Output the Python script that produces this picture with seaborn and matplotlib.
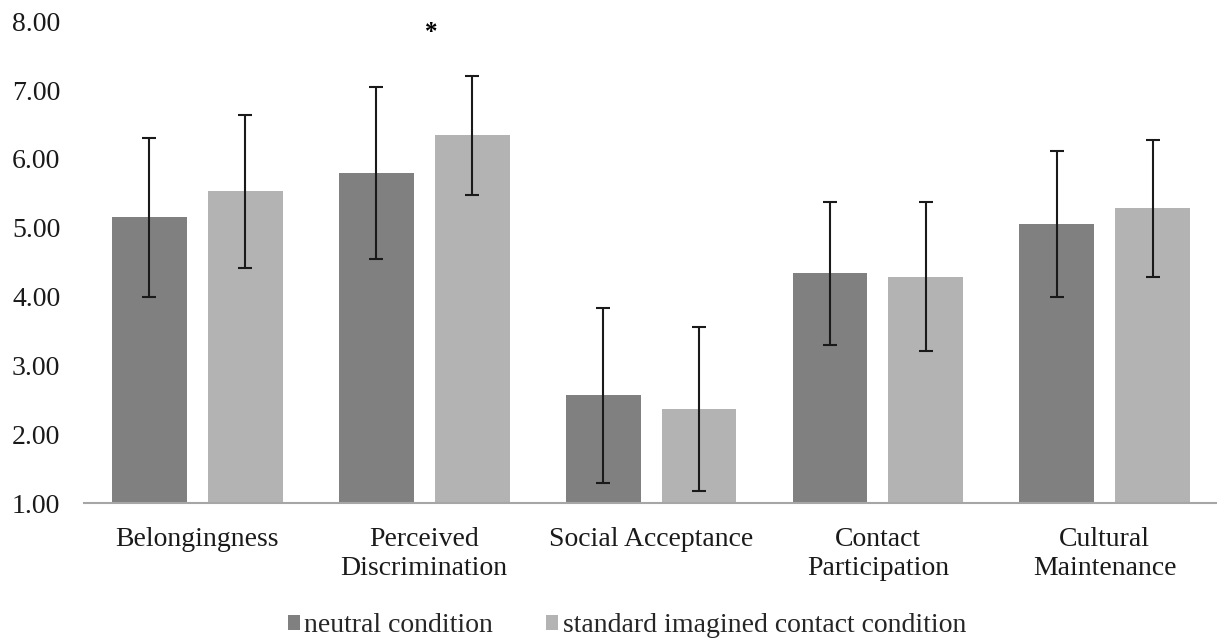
import numpy as np
import pandas as pd
import matplotlib
matplotlib.use('Agg')
import matplotlib.pyplot as plt
from matplotlib.patches import Patch
import seaborn as sns

# data
categories = ['Belongingness', 'Perceived\nDiscrimination', 'Social Acceptance',
              'Contact\nParticipation', 'Cultural\nMaintenance']
conditions = ['neutral condition', 'standard imagined contact condition']
neutral_mean = [5.15, 5.80, 2.57, 4.34, 5.05]
neutral_sd = [1.16, 1.25, 1.27, 1.04, 1.06]
imagined_mean = [5.53, 6.34, 2.37, 4.29, 5.28]
imagined_sd = [1.11, 0.86, 1.19, 1.08, 1.00]
star_label = '*'
star_category = 1
y_ticks = [1, 2, 3, 4, 5, 6, 7, 8]

COLORS = ['#808080', '#b3b3b3']

df = pd.DataFrame({
    'category': categories * 2,
    'condition': [conditions[0]] * 5 + [conditions[1]] * 5,
    'mean': neutral_mean + imagined_mean,
    'sd': neutral_sd + imagined_sd,
})

sns.set_style('white')
plt.rcParams['font.family'] = ['Liberation Serif', 'DejaVu Serif']

fig = plt.figure(figsize=(12.17, 6.41), dpi=100)
ax = fig.add_axes([0.069, 0.215, 0.932, 0.752])

sns.barplot(data=df, x='category', y='mean', hue='condition', order=categories,
            hue_order=conditions, palette=COLORS, width=0.845, gap=0.22,
            errorbar=None, edgecolor='none', legend=False, ax=ax)

# error bars (SD) on each bar, taken from the bar containers
for cont, (m, s) in zip(ax.containers, [(neutral_mean, neutral_sd),
                                        (imagined_mean, imagined_sd)]):
    xs = [p.get_x() + p.get_width() / 2 for p in cont.patches]
    ax.errorbar(xs, m, yerr=s, fmt='none', ecolor='#1a1a1a',
                elinewidth=1.5, capsize=5, capthick=1.5)

# bars start from the 1.00 baseline
ax.set_ylim(1, 8)
ax.set_yticks(y_ticks)
ax.set_yticklabels([f'{v:.2f}' for v in y_ticks])
ax.set_xlim(-0.5, len(categories) - 0.5)
ax.set_xlabel('')
ax.set_ylabel('')

# significance marker
ax.text(star_category + 0.03, 7.83, star_label, ha='center', va='center',
        fontsize=18, fontweight='bold', color='#000000')

for side in ['left', 'right', 'top']:
    ax.spines[side].set_visible(False)
ax.spines['bottom'].set_color('#a6a6a6')
ax.spines['bottom'].set_linewidth(1.5)
ax.tick_params(axis='both', length=0, labelsize=20, colors='#1a1a1a')
ax.tick_params(axis='x', pad=17)
ax.tick_params(axis='y', pad=17)
for lbl in ax.get_xticklabels():
    lbl.set_linespacing(1.2)

handles = [Patch(facecolor=c, edgecolor='none') for c in COLORS]
fig.legend(handles, conditions, loc='lower center', bbox_to_anchor=(0.515, -0.035),
           ncol=2, frameon=False, fontsize=20, handlelength=0.45,
           handleheight=0.45, handletextpad=0.15, columnspacing=1.9)

fig.savefig('out.png', dpi=100)
